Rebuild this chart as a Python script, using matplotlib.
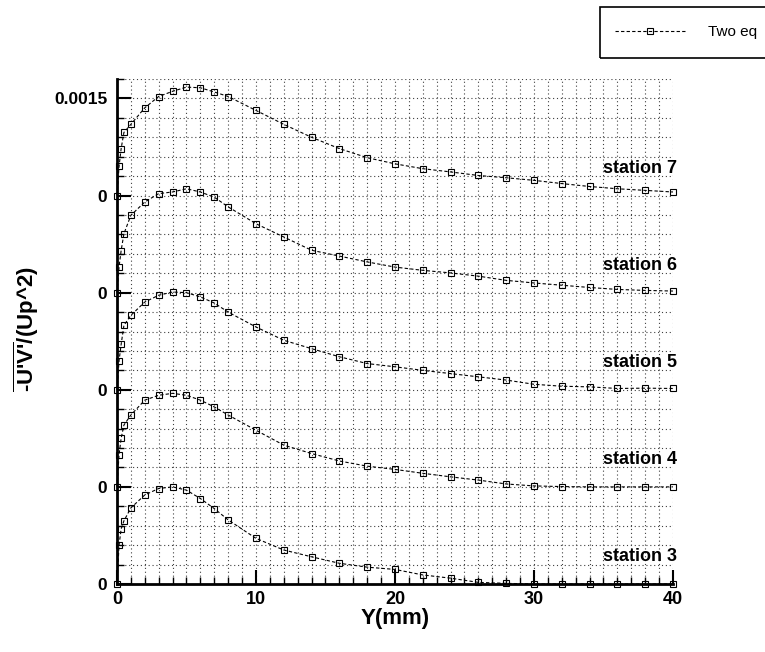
import matplotlib
matplotlib.use("Agg")
import matplotlib.pyplot as plt
from matplotlib.lines import Line2D
from matplotlib.patches import Rectangle
from matplotlib.ticker import MultipleLocator

plt.rcParams['font.family'] = ['Liberation Sans', 'DejaVu Sans']
plt.rcParams['mathtext.fontset'] = 'custom'
plt.rcParams['mathtext.rm'] = 'Liberation Sans:bold'
plt.rcParams['mathtext.it'] = 'Liberation Sans:bold'
plt.rcParams['mathtext.bf'] = 'Liberation Sans:bold'

# wall distance (mm), shared by all stations
y_mm = [0, 0.15, 0.3, 0.5, 1, 2, 3, 4, 5, 6, 7, 8,
        10, 12, 14, 16, 18, 20, 22, 24, 26, 28, 30, 32, 34, 36, 38, 40]

# -u'v'/Up^2 in units of 1e-4
uv_st3 = [0, 1.2, 1.7, 1.95, 2.35, 2.75, 2.95, 3.0, 2.9, 2.64, 2.33, 1.98,
          1.41, 1.05, 0.84, 0.64, 0.52, 0.45, 0.28, 0.18, 0.05, 0.02, 0.0, 0.0, 0.0, 0.0, 0.0, 0.0]
uv_st4 = [0, 1.0, 1.5, 1.91, 2.22, 2.68, 2.83, 2.89, 2.83, 2.68, 2.47, 2.22,
          1.75, 1.29, 1.03, 0.8, 0.64, 0.54, 0.42, 0.31, 0.21, 0.09, 0.03, 0.01, 0.0, 0.0, 0.0, 0.0]
uv_st5 = [0, 0.9, 1.4, 1.99, 2.3, 2.71, 2.92, 3.02, 3.0, 2.87, 2.68, 2.4,
          1.94, 1.53, 1.27, 1.02, 0.81, 0.71, 0.6, 0.5, 0.4, 0.3, 0.17, 0.11, 0.09, 0.04, 0.05, 0.04]
uv_st6 = [0, 0.8, 1.3, 1.82, 2.39, 2.8, 3.06, 3.11, 3.21, 3.11, 2.95, 2.65,
          2.13, 1.72, 1.31, 1.13, 0.95, 0.79, 0.69, 0.61, 0.51, 0.38, 0.30, 0.23, 0.16, 0.10, 0.07, 0.05]
uv_st7 = [0, 0.9, 1.45, 1.95, 2.2, 2.71, 3.06, 3.22, 3.35, 3.33, 3.2, 3.06,
          2.63, 2.2, 1.8, 1.45, 1.17, 0.98, 0.83, 0.73, 0.62, 0.55, 0.47, 0.37, 0.28, 0.21, 0.16, 0.11]

stations = [3, 4, 5, 6, 7]
profiles = [uv_st3, uv_st4, uv_st5, uv_st6, uv_st7]
shifts = [0, 3, 6, 9, 12]   # vertical stacking of profiles (1e-4 units)

ytick_pos = [0, 3, 6, 9, 12, 15]
ytick_lab = ['0', '0', '0', '0', '0', '0.0015']
xtick_pos = [0, 10, 20, 30, 40]

W, H = 765, 652
fig = plt.figure(figsize=(W / 100, H / 100), dpi=100)
ax = fig.add_axes([0.1529, 0.1043, 0.7268, 0.7745])

line_kw = dict(color='k', lw=0.8, ls=(0, (3, 2)), marker='s', ms=5,
               mfc='none', mec='k', mew=0.8)

for st, uv, sh in zip(stations, profiles, shifts):
    ax.plot(y_mm, [v + sh for v in uv], clip_on=False, **line_kw)
    ax.text(40.3, sh + 0.85, f'station {st}', ha='right', va='center',
            fontsize=13, fontweight='bold')

ax.set_xlim(0, 40)
ax.set_ylim(0, 15.6)
ax.set_xticks(xtick_pos)
ax.set_xticklabels([str(v) for v in xtick_pos], fontsize=13, fontweight='bold')
ax.set_yticks(ytick_pos)
ax.set_yticklabels(ytick_lab, fontsize=12.5, fontweight='bold')
ax.xaxis.set_minor_locator(MultipleLocator(1))
ax.yaxis.set_minor_locator(MultipleLocator(0.6))
ax.tick_params(which='major', direction='in', length=10, width=1.5, pad=7)
ax.tick_params(axis='x', which='major', pad=5)
ax.tick_params(which='minor', direction='in', length=5, width=1)
ax.grid(which='both', color='0.25', lw=0.8, ls=(0, (1, 2.5)))

for side in ['top', 'right']:
    ax.spines[side].set_visible(False)
for side in ['left', 'bottom']:
    ax.spines[side].set_linewidth(2)

ax.set_xlabel('Y(mm)', fontsize=16, fontweight='bold', labelpad=0)
fig.text(0.034, 0.495, r"$\overline{\text{-U'V'}}$/(Up^2)", rotation=90,
         ha='center', va='center', fontsize=16, fontweight='bold')

# legend box runs off the right edge of the page, as in the scan
fig.patches.append(Rectangle((600 / W, 1 - 58 / H), 200 / W, 51 / H,
                             transform=fig.transFigure, fill=False,
                             edgecolor='k', lw=1.2, clip_on=False))
handle = Line2D([], [], **line_kw)
leg = fig.legend([handle], ['Two eq'], loc='center left',
                 bbox_to_anchor=(609 / W, 1 - 32 / H), fontsize=11,
                 frameon=False, handlelength=4.6, handletextpad=1.5,
                 borderaxespad=0)

fig.savefig('out.png', dpi=100)
